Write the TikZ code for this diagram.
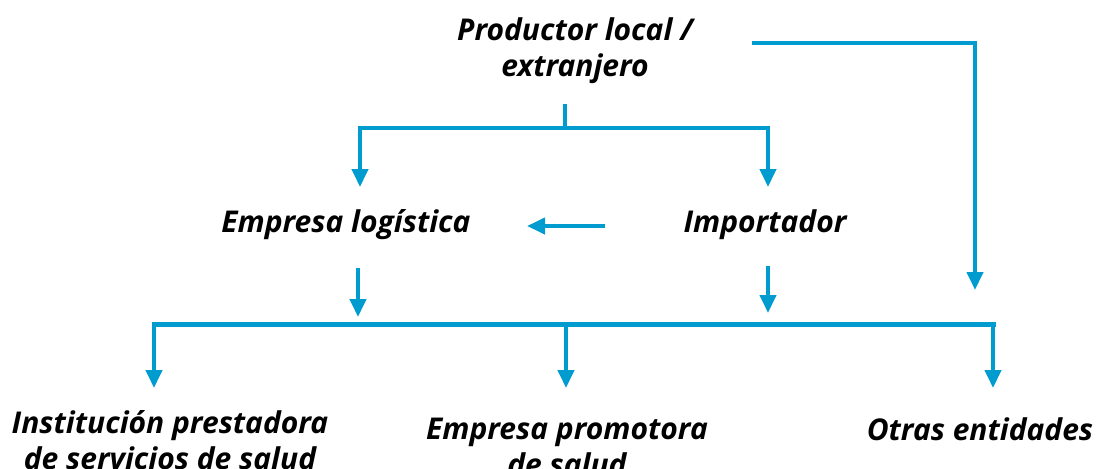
\documentclass[tikz,border=0pt]{standalone}
\usepackage{fontspec}
\setmainfont{Open Sans}
\usetikzlibrary{arrows.meta}
\definecolor{flujo}{RGB}{0,156,208}

\begin{document}
\begin{tikzpicture}[x=0.5pt, y=-0.5pt,
		lbl/.style={align=center, font=\fontsize{15}{18}\selectfont\bfseries\itshape, inner sep=0pt},
		linea/.style={line width=2pt, color=flujo},
		flecha/.style={linea, -{Triangle[width=8pt, length=9pt]}}]
			%%%%% START %%%%%
			\useasboundingbox (0, 0) rectangle (1097, 468);
			
			\node[lbl] (prod) at (575, 51) {Productor local /\\extranjero};
			\node[lbl] (log) at (346, 225) {Empresa logística};
			\node[lbl] (imp) at (765, 225) {Importador};
			\node[lbl] (ips) at (170, 440) {Institución prestadora\\de servicios de salud};
			\node[lbl] (eps) at (567, 447) {Empresa promotora\\de salud};
			\node[lbl] (otr) at (980, 429) {Otras entidades};
			
			\coordinate (pdes) at (752, 43);
			\coordinate (pesq) at (975, 43);
			\coordinate (otop) at (975, 290);
			\coordinate (pbaj) at (565, 104);
			\coordinate (prep) at (565, 128);
			\coordinate (ltop) at (360, 187);
			\coordinate (itop) at (768, 187);
			\coordinate (ilef) at (605, 226);
			\coordinate (lhas) at (527, 226);
			\coordinate (lbaj) at (358, 268);
			\coordinate (ibaj) at (768, 266);
			\coordinate (bizq) at (154, 324);
			\coordinate (brep) at (566, 324);
			\coordinate (bder) at (993, 324);
			
			% productor
			\draw[linea] (pbaj) -- (prep);
			\draw[linea, line cap=rect] (ltop |- prep) -- (itop |- prep);
			\draw[flecha] (ltop |- prep) -- (ltop);
			\draw[flecha] (itop |- prep) -- (itop);
			\draw[flecha] (pdes) -- (pesq) -- (otop);
			
			% importador a logistica
			\draw[flecha] (ilef) -- (lhas);
			
			% hacia abajo
			\draw[flecha] (lbaj) -- (lbaj |- 0, 317);
			\draw[flecha] (ibaj) -- (ibaj |- 0, 313);
			\draw[linea, line width=2.5pt, line cap=rect] (bizq) -- (bder);
			\draw[flecha] (bizq) -- (bizq |- 0, 388);
			\draw[flecha] (brep) -- (brep |- 0, 388);
			\draw[flecha] (bder) -- (bder |- 0, 388);
			
			%%%%% END %%%%%
\end{tikzpicture}
\end{document}
